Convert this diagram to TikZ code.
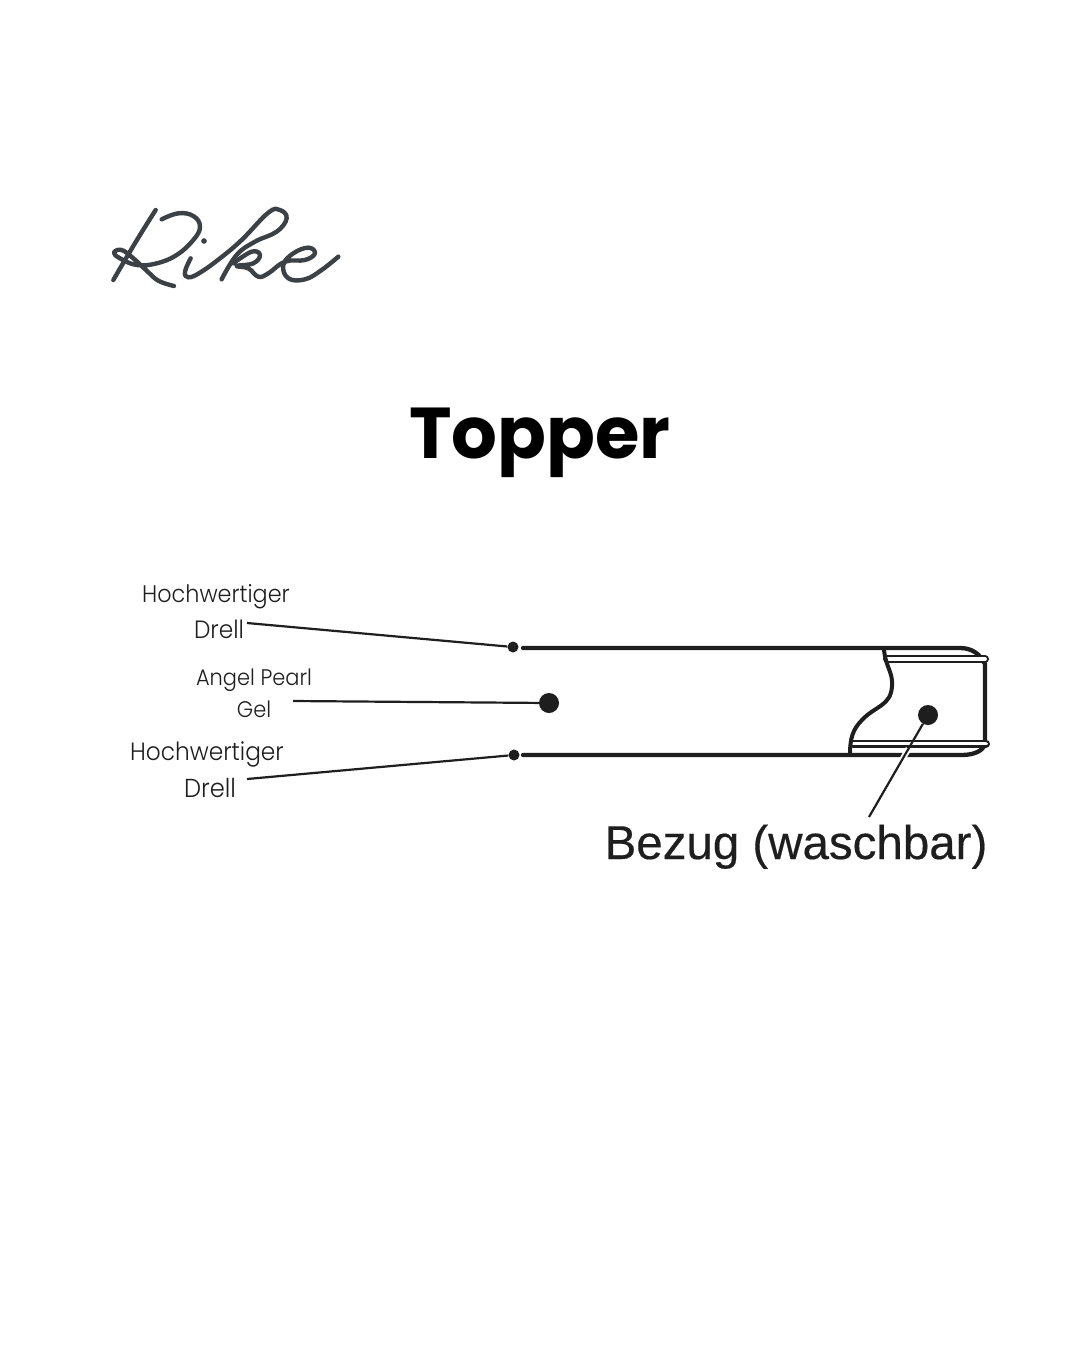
\documentclass[tikz,border=0pt]{standalone}
\usepackage{fontspec}
\usetikzlibrary{calc}
\setmainfont{Poppins}
\newfontfamily\lightfont[FakeStretch=0.93]{Poppins Light}
\newfontfamily\barefont[FakeBold=0.35]{Liberation Sans}
\definecolor{ink}{HTML}{1E1E1E}
\definecolor{logoink}{HTML}{3C4145}
\tikzset{
 lbl/.style={inner sep=0pt,text=ink,anchor=base,font=\lightfont\fontsize{#1}{#1}\selectfont},
 dotnode/.style={circle,fill=ink,inner sep=0pt,minimum size=#1},
 leader/.style={draw=ink,line width=2.2pt},
 body/.style={draw=ink,line width=4.3pt,line cap=round},
 wave/.style={draw=ink,line width=4pt,line cap=round},
 rail/.style={draw=ink,line width=8pt,line cap=round},
 railin/.style={draw=white,line width=3.8pt,line cap=round},
 logo/.style={draw=logoink,line width=4.4pt,line cap=round,line join=round},
}
\begin{document}
\begin{tikzpicture}[x=1pt,y=-1pt]
\path[use as bounding box,fill=white] (0,0) rectangle (1080,1350);
% logo
\begin{scope}[shift={(90,190)},x=0.3333pt,y=-0.3333pt]
\draw[logo] plot[smooth,tension=0.7] coordinates {(197,60) (150,135) (105,210) (70,270)};
\draw[logo] plot[smooth,tension=0.7] coordinates {(215,88) (265,70) (310,78) (330,110) (310,150) (260,195) (200,220) (140,225) (90,205) (72,188) (95,180) (130,205) (170,242) (205,272) (252,288)};
\draw[logo] plot[smooth,tension=0.7] coordinates {(302,205) (285,245) (295,262) (330,248) (390,205) (455,150) (535,68) (570,60) (590,85) (560,125) (495,155) (440,195) (395,268)};
\draw[logo] plot[smooth,tension=0.7] coordinates {(430,220) (485,185) (510,195) (490,220) (440,228) (475,235) (505,260) (535,250) (585,215) (645,210) (675,190) (655,173) (610,190) (580,225) (595,265) (645,268) (695,240) (745,200)};
\fill[logoink] (342,153) circle (8.5);
\end{scope}
% title
\node[inner sep=0pt,anchor=base,text=black,font=\fontsize{72}{72}\selectfont\bfseries] (title) at (540,458) {Topper};
% labels
\node[lbl=24] (d1a) at (216,602) {Hochwertiger};
\node[lbl=25] (d1b) at (219,638) {Drell};
\node[lbl=22.5] (g1) at (254,685) {Angel Pearl};
\node[lbl=22.5] (g2) at (254,717) {Gel};
\node[lbl=25] (d2a) at (207,760) {Hochwertiger};
\node[lbl=26] (d2b) at (210,797) {Drell};
\node[inner sep=0pt,anchor=base,text=ink,font=\fontsize{47.5}{47.5}\selectfont\barefont] (bez) at (796,859) {Bezug (waschbar)};
% mattress body
\draw[body] (523,648) -- (960,648) .. controls (972,648) and (980,654) .. (985,664) -- (985,742) .. controls (985,750) and (975,755) .. (962,755) -- (523,755);
\draw[rail] (887,659) -- (985,659);
\draw[railin] (887,659) -- (985,659);
\draw[rail] (853,743.5) -- (986,743.5);
\draw[railin] (853,743.5) -- (986,743.5);
\draw[wave] (884,650) .. controls (886,668) and (893,672) .. (892,686) .. controls (891,706) and (875,706) .. (862,720) .. controls (853,729) and (850,738) .. (850,754);
% dots
\node[dotnode=11pt] (p1) at (513,647) {};
\node[dotnode=20pt] (p2) at (549,703) {};
\node[dotnode=11pt] (p3) at (514,755) {};
\node[dotnode=20pt] (p4) at (928,715) {};
\coordinate (c1) at (247,623);
\coordinate (c2) at (293,701);
\coordinate (c3) at (247,779);
\coordinate (c4) at (869,817);
% leaders
\draw[leader] (c1) -- (p1);
\draw[leader] (c2) -- (p2);
\draw[leader] (c3) -- (p3);
\draw[draw=white,line width=6pt] ($(p4)!0.33!(c4)$) -- ($(p4)!0.45!(c4)$);
\draw[leader] (c4) -- (p4);
\end{tikzpicture}
\end{document}
